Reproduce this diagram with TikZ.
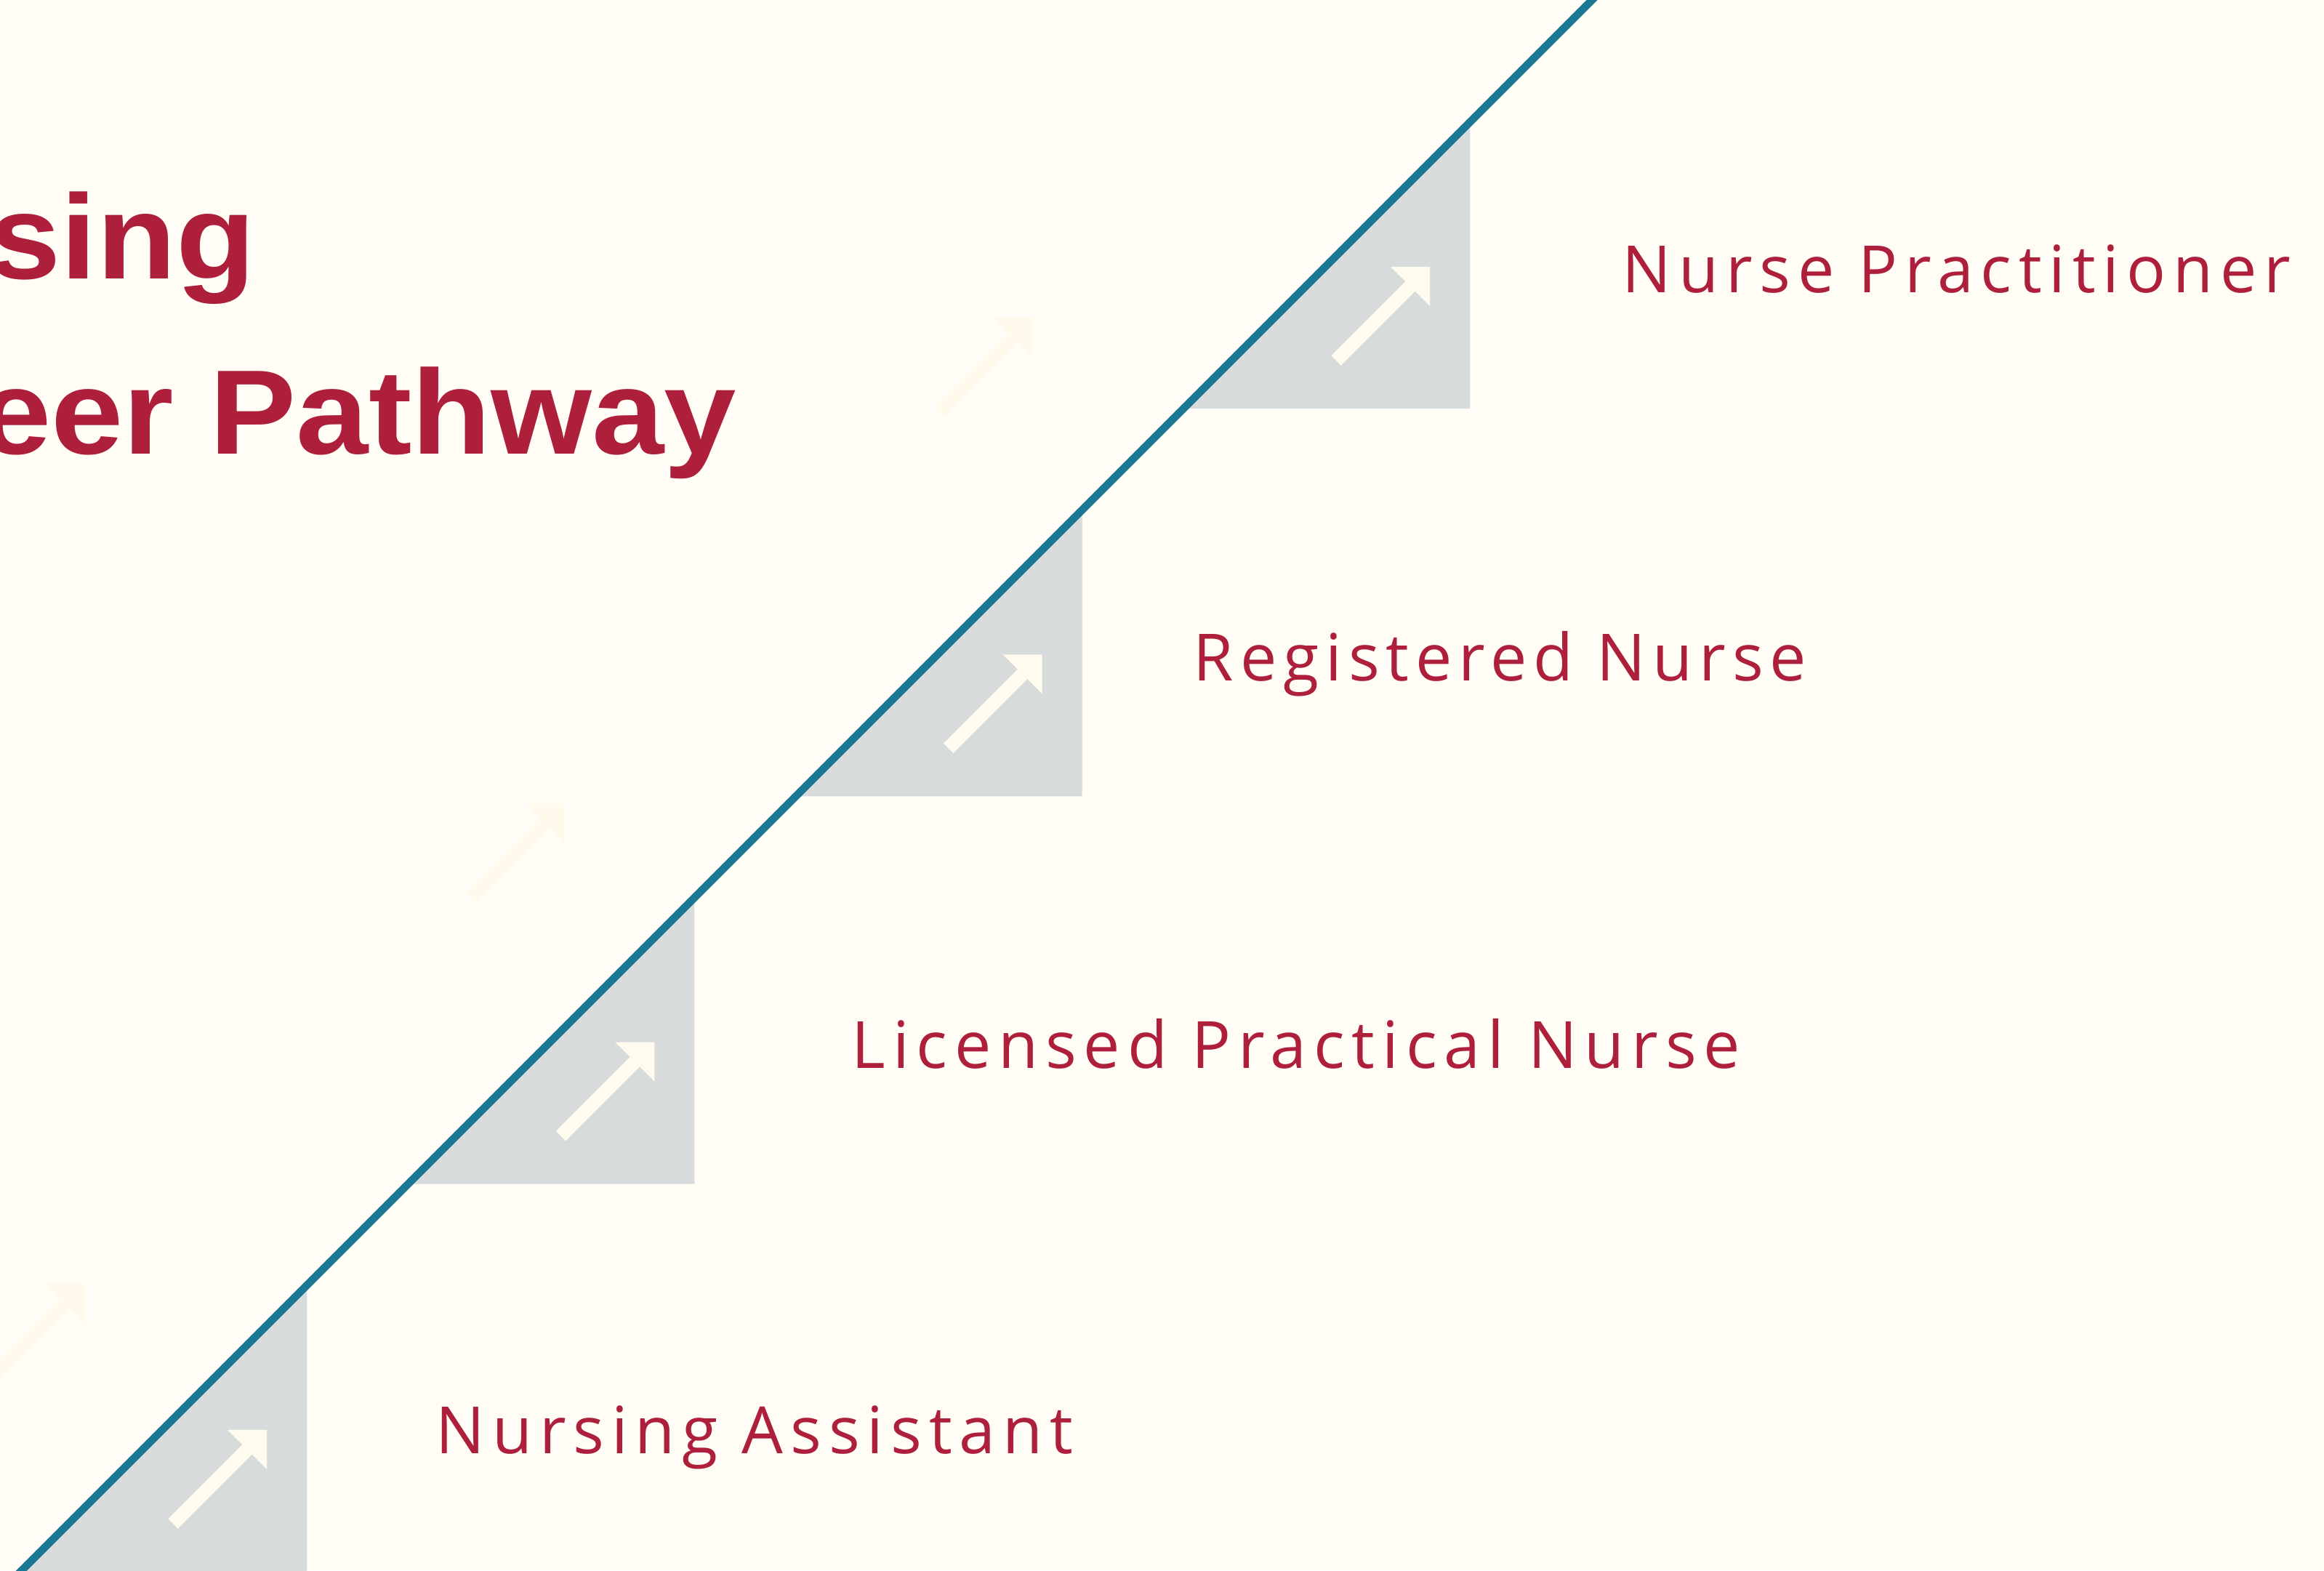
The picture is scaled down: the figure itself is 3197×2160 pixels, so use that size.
\documentclass[tikz,border=0pt]{standalone}
\usepackage{fontspec}
\setmainfont{Open Sans}
\newfontfamily\titlefont[FakeStretch=1.08]{Liberation Sans}
\newfontfamily\labelfont[LetterSpace=11]{Open Sans}
\newfontfamily\labelfontb[LetterSpace=10]{Open Sans}
\definecolor{bg}{HTML}{FFFDF6}
\definecolor{steel}{HTML}{1B7894}
\definecolor{stepgrey}{HTML}{D7DBDC}
\definecolor{crimson}{HTML}{AD1F3A}
\definecolor{cream}{HTML}{FFFBEF}
\definecolor{ghost}{HTML}{FFFAEC}
\newcommand\stepicon[3]{%
  \fill[#3] (#1,#2) -- ++(-54,0) -- ++(54,54) -- cycle;
  \draw[#3, line width=0.19cm] (#1-22,#2+22) -- (#1-129,#2+129);
}
\tikzset{
  steplabel/.style={font=\labelfont\fontsize{25.5}{30}\selectfont, text=crimson, inner sep=0pt, anchor=base west},
  titletext/.style={font=\titlefont\bfseries\fontsize{47}{56}\selectfont, text=crimson, inner sep=0pt, anchor=base east},
}
\begin{document}
\begin{tikzpicture}[x=0.01cm,y=-0.01cm]
\useasboundingbox (0,0) rectangle (3197,2160);
\fill[bg] (0,0) rectangle (3197,2160);
\begin{scope}
  \clip (0,0) rectangle (3197,2160);
  % faint ghost arrows
  \stepicon{1420}{437}{ghost}
  \stepicon{777}{1105}{ghost}
  \stepicon{117}{1766}{ghost}
  % grey steps with arrows
  \foreach \k in {0,1,2,3}{
    \pgfmathsetmacro\R{2022-533.3*\k}
    \pgfmathsetmacro\B{562+533.3*\k}
    \fill[stepgrey] (\R,{2190-\R}) -- (\R,\B) -- ({2190-\B},\B) -- cycle;
    \stepicon{\R-55}{\B-195}{cream}
  }
  % diagonal line
  \coordinate (lineTop) at (2260,-70);
  \coordinate (lineBot) at (-70,2260);
  \draw[steel, line width=0.106cm] (lineTop) -- (lineBot);
\end{scope}
\node[titletext] (title1) at (352,383) {Nursing};
\node[titletext] (title2) at (1014,624) {Career Pathway};
\node[steplabel] (np) at (2231,402) {Nurse Practitioner};
\node[steplabel, font=\labelfontb\fontsize{25.5}{30}\selectfont] (rn) at (1641,936) {Registered Nurse};
\node[steplabel] (lpn) at (1171,1469) {Licensed Practical Nurse};
\node[steplabel] (na) at (599,1999) {Nursing Assistant};
\end{tikzpicture}
\end{document}
